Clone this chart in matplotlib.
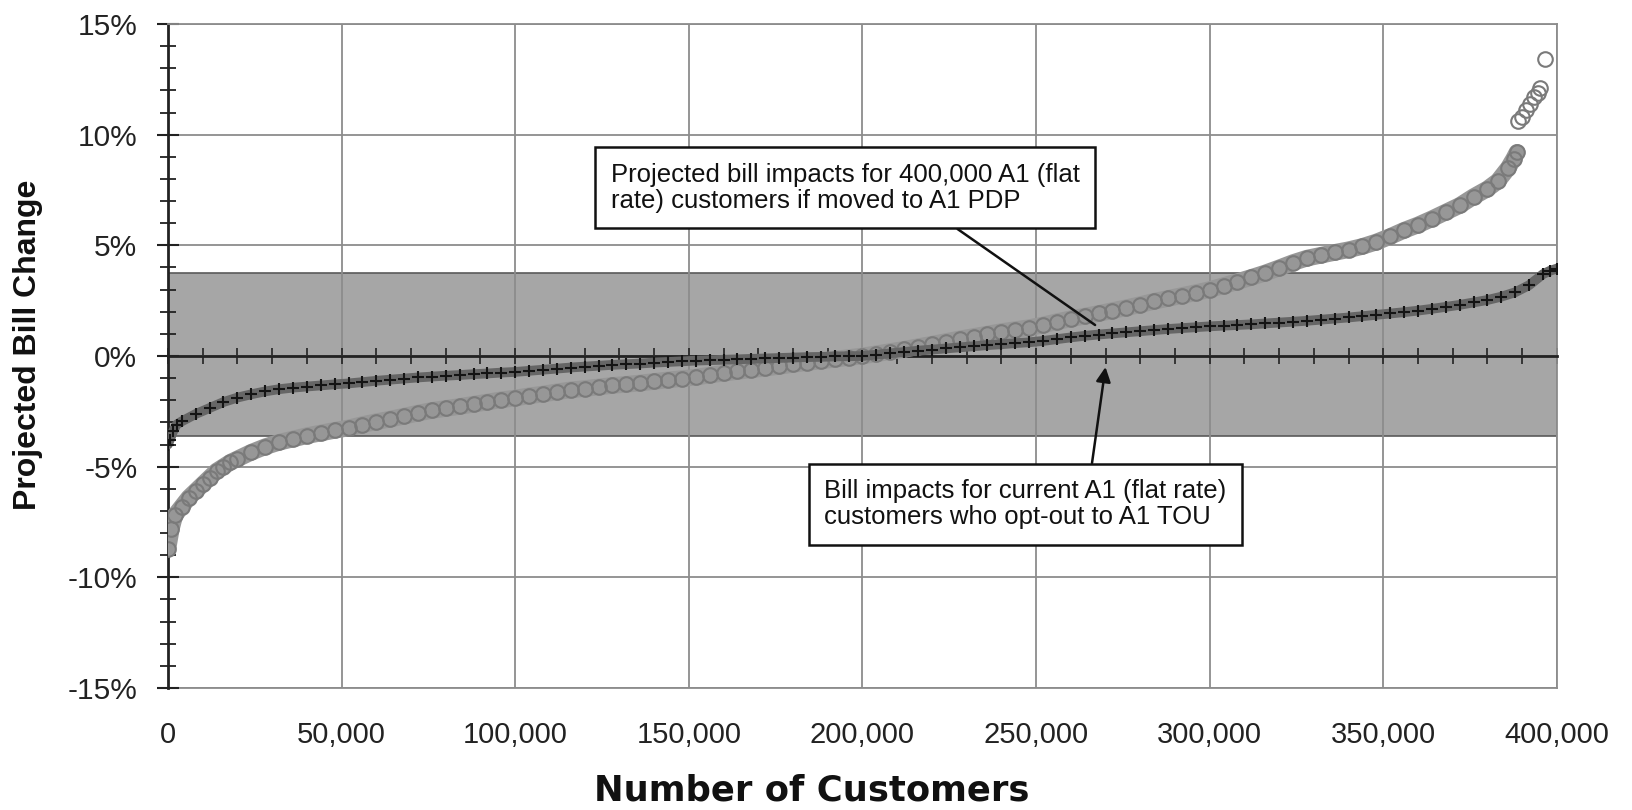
import numpy as np
import matplotlib.pyplot as plt
from matplotlib.ticker import MultipleLocator, FuncFormatter, FixedLocator

plt.rcParams['font.family'] = ['Liberation Sans', 'DejaVu Sans']

# customers (thousands, sorted) and projected bill change (%) for A1 PDP
pdp_k = [0, 1, 2, 4, 6, 8, 10, 12, 14, 16, 18, 20, 24, 28, 32, 36, 40, 44, 48, 52,
         56, 60, 64, 68, 72, 76, 80, 84, 88, 92, 96, 100, 104, 108, 112, 116, 120,
         124, 128, 132, 136, 140, 144, 148, 152, 156, 160, 164, 168, 172, 176, 180,
         184, 188, 192, 196, 200, 204, 208, 212, 216, 220, 224, 228, 232, 236, 240,
         244, 248, 252, 256, 260, 264, 268, 272, 276, 280, 284, 288, 292, 296, 300,
         304, 308, 312, 316, 320, 324, 328, 332, 336, 340, 344, 348, 352, 356, 360,
         364, 368, 372, 376, 380, 383, 386, 387.5, 388.5, 388.8, 389.8, 391, 392.2,
         393.4, 394.5, 395, 396.5]
pdp_pct = [-8.7, -7.8, -7.2, -6.8, -6.4, -6.1, -5.8, -5.5, -5.2, -5.0, -4.8, -4.65,
           -4.35, -4.1, -3.9, -3.75, -3.6, -3.48, -3.36, -3.25, -3.1, -2.97, -2.85,
           -2.72, -2.58, -2.46, -2.37, -2.28, -2.18, -2.08, -1.98, -1.9, -1.8, -1.72,
           -1.62, -1.53, -1.47, -1.4, -1.33, -1.28, -1.22, -1.15, -1.08, -1.02, -0.96,
           -0.86, -0.78, -0.7, -0.62, -0.55, -0.47, -0.38, -0.3, -0.22, -0.15, -0.07,
           0.0, 0.1, 0.2, 0.3, 0.42, 0.53, 0.65, 0.77, 0.88, 0.99, 1.1, 1.19, 1.28,
           1.4, 1.55, 1.68, 1.8, 1.92, 2.05, 2.18, 2.32, 2.47, 2.6, 2.73, 2.86, 3.0,
           3.18, 3.36, 3.55, 3.75, 3.98, 4.22, 4.42, 4.55, 4.68, 4.8, 4.95, 5.15, 5.4,
           5.68, 5.92, 6.2, 6.5, 6.8, 7.2, 7.55, 7.9, 8.5, 8.9, 9.2, 10.6, 10.8, 11.1,
           11.4, 11.7, 11.9, 12.1, 13.4]

# customers (thousands, sorted) and bill change (%) for opt-out to A1 TOU
tou_k = [0, 0.5, 1.5, 2.5, 4, 8, 12, 16, 20, 24, 28, 32, 36, 40, 44, 48, 52, 56, 60,
         64, 68, 72, 76, 80, 84, 88, 92, 96, 100, 104, 108, 112, 116, 120, 124, 128,
         132, 136, 140, 144, 148, 152, 156, 160, 164, 168, 172, 176, 180, 184, 188,
         192, 196, 200, 204, 208, 212, 216, 220, 224, 228, 232, 236, 240, 244, 248,
         252, 256, 260, 264, 268, 272, 276, 280, 284, 288, 292, 296, 300, 304, 308,
         312, 316, 320, 324, 328, 332, 336, 340, 344, 348, 352, 356, 360, 364, 368,
         372, 376, 380, 384, 388, 392, 396, 398, 400]
tou_pct = [-4.0, -3.8, -3.4, -3.1, -2.95, -2.62, -2.35, -2.08, -1.88, -1.73, -1.6,
           -1.5, -1.43, -1.38, -1.33, -1.28, -1.24, -1.18, -1.12, -1.07, -1.02, -0.97,
           -0.93, -0.89, -0.86, -0.82, -0.79, -0.75, -0.72, -0.67, -0.62, -0.57,
           -0.52, -0.48, -0.44, -0.4, -0.37, -0.34, -0.3, -0.27, -0.24, -0.21, -0.19,
           -0.17, -0.15, -0.13, -0.11, -0.09, -0.07, -0.05, -0.04, -0.02, -0.01, 0.0,
           0.06, 0.12, 0.18, 0.24, 0.29, 0.34, 0.39, 0.44, 0.49, 0.53, 0.58, 0.62,
           0.68, 0.76, 0.84, 0.91, 0.97, 1.02, 1.07, 1.12, 1.17, 1.22, 1.26, 1.3,
           1.34, 1.37, 1.4, 1.43, 1.47, 1.51, 1.55, 1.59, 1.64, 1.69, 1.74, 1.8,
           1.86, 1.92, 1.98, 2.05, 2.13, 2.22, 2.31, 2.42, 2.53, 2.68, 2.88, 3.2,
           3.7, 3.85, 3.95]

band_lo, band_hi = -3.6, 3.75
x_ticks = [0, 50000, 100000, 150000, 200000, 250000, 300000, 350000, 400000]

note_pdp = "Projected bill impacts for 400,000 A1 (flat\nrate) customers if moved to A1 PDP"
note_tou = "Bill impacts for current A1 (flat rate)\ncustomers who opt-out to A1 TOU"

pdp_x = np.array(pdp_k) * 1000
pdp_y = np.array(pdp_pct)
tou_x = np.array(tou_k) * 1000
body = pdp_y < 10  # the few top outliers stand apart

fig = plt.figure(figsize=(16.32, 8.1), dpi=100)
ax = fig.add_axes([0.1029, 0.1506, 0.8511, 0.8198])
ax.set_xlim(0, 400000)
ax.set_ylim(-15, 15)

ax.axhspan(band_lo, band_hi, facecolor='#a6a6a6', edgecolor='#5a5a5a', lw=1.2, zorder=0.3)
ax.set_axisbelow(True)
ax.xaxis.set_major_locator(MultipleLocator(50000))
ax.xaxis.set_minor_locator(MultipleLocator(10000))
ax.yaxis.set_major_locator(MultipleLocator(5))
ax.yaxis.set_minor_locator(MultipleLocator(1))
ax.grid(which='major', color='#8c8c8c', lw=1.3)

# x axis crosses at 0 %, labels kept at the bottom edge
ax.spines['bottom'].set_position(('data', 0))
ax.spines['bottom'].set_color('#222222')
ax.spines['bottom'].set_linewidth(2)
ax.spines['left'].set_color('#222222')
ax.spines['left'].set_linewidth(2)
for s in ['top', 'right']:
    ax.spines[s].set_color('#8c8c8c')
    ax.spines[s].set_linewidth(1.3)
ax.tick_params(axis='x', which='both', direction='inout', length=12, width=1.2,
               color='#222222', labelbottom=False)
ax.tick_params(axis='y', which='major', direction='inout', length=16, width=1.5,
               color='#222222', labelsize=21.5, labelcolor='#222222', pad=14)
ax.tick_params(axis='y', which='minor', direction='inout', length=11, width=1.3,
               color='#222222')
ax.yaxis.set_major_formatter(FuncFormatter(lambda v, p: f"{int(round(v))}%"))

sec = ax.secondary_xaxis('bottom')
sec.spines['bottom'].set_color('#8c8c8c')
sec.spines['bottom'].set_linewidth(1.3)
sec.xaxis.set_major_locator(FixedLocator(x_ticks))
sec.xaxis.set_minor_locator(FixedLocator([]))
sec.xaxis.set_major_formatter(FuncFormatter(lambda v, p: f"{int(v):,}"))
sec.tick_params(axis='x', which='both', length=0, labelsize=21, labelcolor='#222222',
                pad=24)

# PDP: dense hollow circles
ax.plot(pdp_x[body], pdp_y[body], color='#979797', lw=12, solid_capstyle='round',
        zorder=2.8)
ax.plot(pdp_x, pdp_y, ls='none', marker='o', ms=10.5, mfc='none', mec='#7a7a7a',
        mew=1.5, zorder=3)
# TOU: dense plus markers
ax.plot(tou_x, tou_pct, color='#666666', lw=7, solid_capstyle='round', zorder=3.5)
ax.plot(tou_x, tou_pct, ls='none', marker='+', ms=9, mec='#141414', mew=1.5, zorder=4)

box = dict(boxstyle='square,pad=0.6', fc='white', ec='#111111', lw=1.8)
ax.annotate(note_pdp, xy=(267000, 1.4), xytext=(127500, 7.6), ha='left', va='center',
            fontsize=18.5, linespacing=1.1, color='#111111', bbox=box, zorder=6,
            arrowprops=dict(arrowstyle='-', color='#111111', lw=1.8, relpos=(0.69, 0),
                            shrinkA=0, shrinkB=0))
ax.annotate(note_tou, xy=(270000, -0.5), xytext=(189000, -6.7), ha='left', va='center',
            fontsize=18.5, linespacing=1.1, color='#111111', bbox=box, zorder=6,
            arrowprops=dict(arrowstyle='-|>', color='#111111', lw=1.8, relpos=(0.66, 1),
                            mutation_scale=22, shrinkA=0, shrinkB=0))

fig.text(28 / 1632, 0.574, 'Projected Bill Change', rotation=90, ha='center',
         va='center', fontsize=23, fontweight='bold', color='#111111')
fig.text(812 / 1632, 0.024, 'Number of Customers', ha='center', va='center',
         fontsize=25.5, fontweight='bold', color='#111111', family='DejaVu Sans')

fig.savefig('out.png', dpi=100)
